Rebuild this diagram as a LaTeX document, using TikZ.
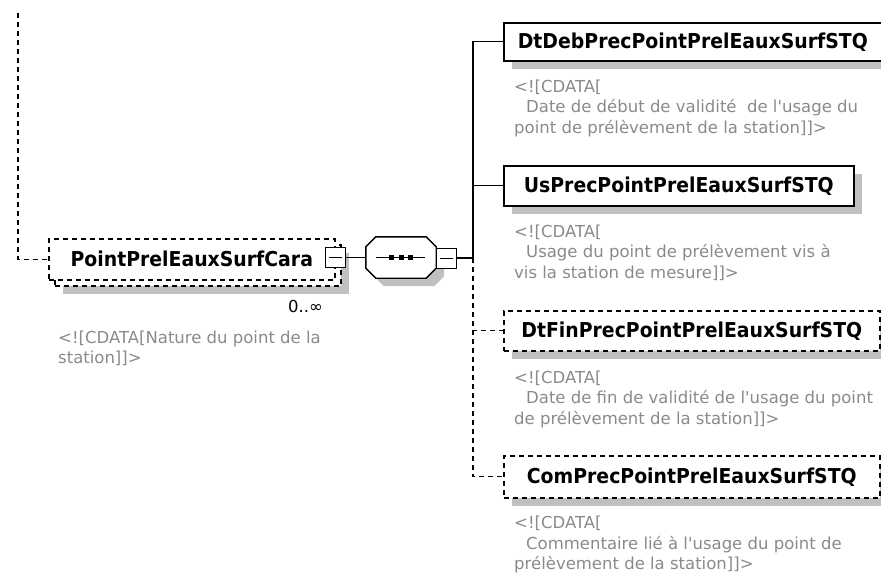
\documentclass[tikz,border=0pt]{standalone}
\usepackage{fontspec}
\setmainfont{DejaVu Sans}
\newfontfamily\namefont{DejaVu Sans}[FakeStretch=0.92]
\usetikzlibrary{shadows}
\definecolor{notegray}{RGB}{138,138,138}
\definecolor{shadowgray}{RGB}{192,192,192}

\begin{document}
\begin{tikzpicture}[x=1pt,y=-1pt,
  box/.style={draw,line width=1.6pt,fill=white,inner sep=0pt,anchor=north west,
    font=\namefont\bfseries\fontsize{20.5}{24}\selectfont},
  dashbox/.style={dash pattern=on 5pt off 4pt},
  shade/.style={drop shadow={shadow xshift=8pt,shadow yshift=-8pt,fill=shadowgray,draw=none,opacity=1}},
  note/.style={anchor=base west,inner sep=0pt,align=left,text=notegray,
    font=\fontsize{16.5}{20.5}\selectfont},
  link/.style={line width=1.2pt},
  optlink/.style={link,dash pattern=on 5pt off 4pt},
  minus/.style={draw,line width=1pt,fill=white,minimum size=20pt,inner sep=0pt}]
\useasboundingbox (0,0) rectangle (881,574);

% parent element, 0..unbounded
\coordinate (top) at (18,13);
\node[box,dashbox,shade,minimum width=286pt,minimum height=41pt] (pback) at (54,244) {};
\node[box,dashbox,minimum width=286pt,minimum height=41pt] (point) at (48,238) {PointPrelEauxSurfCara};
\draw[optlink] (top) |- (point.west);
\node[minus] (pmin) at (335,257.5) {};
\draw[line width=1pt] ([xshift=4pt]pmin.west) -- ([xshift=-4pt]pmin.east);
\node[anchor=base east,inner sep=0pt,font=\fontsize{16.5}{20}\selectfont] (occ) at (323,312) {0..∞};
\node[note] (pnote) at (58,363.5) {<![CDATA[Nature du point de la\\station]]>};

% sequence (octagon)
\node[minimum width=70pt,minimum height=41pt,inner sep=0pt] (seq) at (401,257.5) {};
\fill[shadowgray,transform canvas={shift={(8pt,-8pt)}}]
  ([xshift=10pt]seq.north west) -- ([xshift=-10pt]seq.north east) -- ([yshift=-10pt]seq.north east)
  -- ([yshift=10pt]seq.south east) -- ([xshift=-10pt]seq.south east) -- ([xshift=10pt]seq.south west)
  -- ([yshift=10pt]seq.south west) -- ([yshift=-10pt]seq.north west) -- cycle;
\draw[line width=1.4pt,fill=white]
  ([xshift=10pt]seq.north west) -- ([xshift=-10pt]seq.north east) -- ([yshift=-10pt]seq.north east)
  -- ([yshift=10pt]seq.south east) -- ([xshift=-10pt]seq.south east) -- ([xshift=10pt]seq.south west)
  -- ([yshift=10pt]seq.south west) -- ([yshift=-10pt]seq.north west) -- cycle;
\draw[line width=1pt] ([xshift=10pt]seq.west) -- ([xshift=-11pt]seq.east);
\foreach \dx in {-9.5,0,9.5}
  \fill ([xshift=\dx pt]seq.center) ++(-2.5pt,-2.5pt) rectangle ++(5pt,5pt);
\node[minus] (smin) at (446,258) {};
\draw[line width=1pt] ([xshift=4pt]smin.west) -- ([xshift=-4pt]smin.east);
\draw[link] (pmin) -- (seq);
\coordinate (bus) at (473,258);
\draw[link] (smin) -- (bus);

% children
\node[box,shade,minimum width=378pt,minimum height=38pt] (deb) at (503,22) {DtDebPrecPointPrelEauxSurfSTQ};
\node[box,shade,minimum width=350pt,minimum height=40pt] (usp) at (503,165) {UsPrecPointPrelEauxSurfSTQ};
\node[box,dashbox,shade,minimum width=376pt,minimum height=40pt] (fin) at (503,310) {DtFinPrecPointPrelEauxSurfSTQ};
\node[box,dashbox,shade,minimum width=376pt,minimum height=42pt] (com) at (503,455) {ComPrecPointPrelEauxSurfSTQ};
\draw[link] (bus) |- (deb);
\draw[link] (bus) |- (usp);
\draw[optlink] (bus) |- (fin);
\draw[optlink] (bus) |- (com);

\node[note] (debnote) at (514,133) {<![CDATA[\\\hspace*{12pt}Date de début de validité\ \ de l\textquotesingle usage du\\point de prélèvement de la station]]>};
\node[note] (uspnote) at (514,278) {<![CDATA[\\\hspace*{12pt}Usage du point de prélèvement vis à\\vis la station de mesure]]>};
\node[note] (finnote) at (514,424) {<![CDATA[\\\hspace*{12pt}Date de fin de validité de l\textquotesingle usage du point\\de prélèvement de la station]]>};
\node[note] (comnote) at (514,569.5) {<![CDATA[\\\hspace*{12pt}Commentaire lié à l\textquotesingle usage du point de\\prélèvement de la station]]>};
\end{tikzpicture}
\end{document}
